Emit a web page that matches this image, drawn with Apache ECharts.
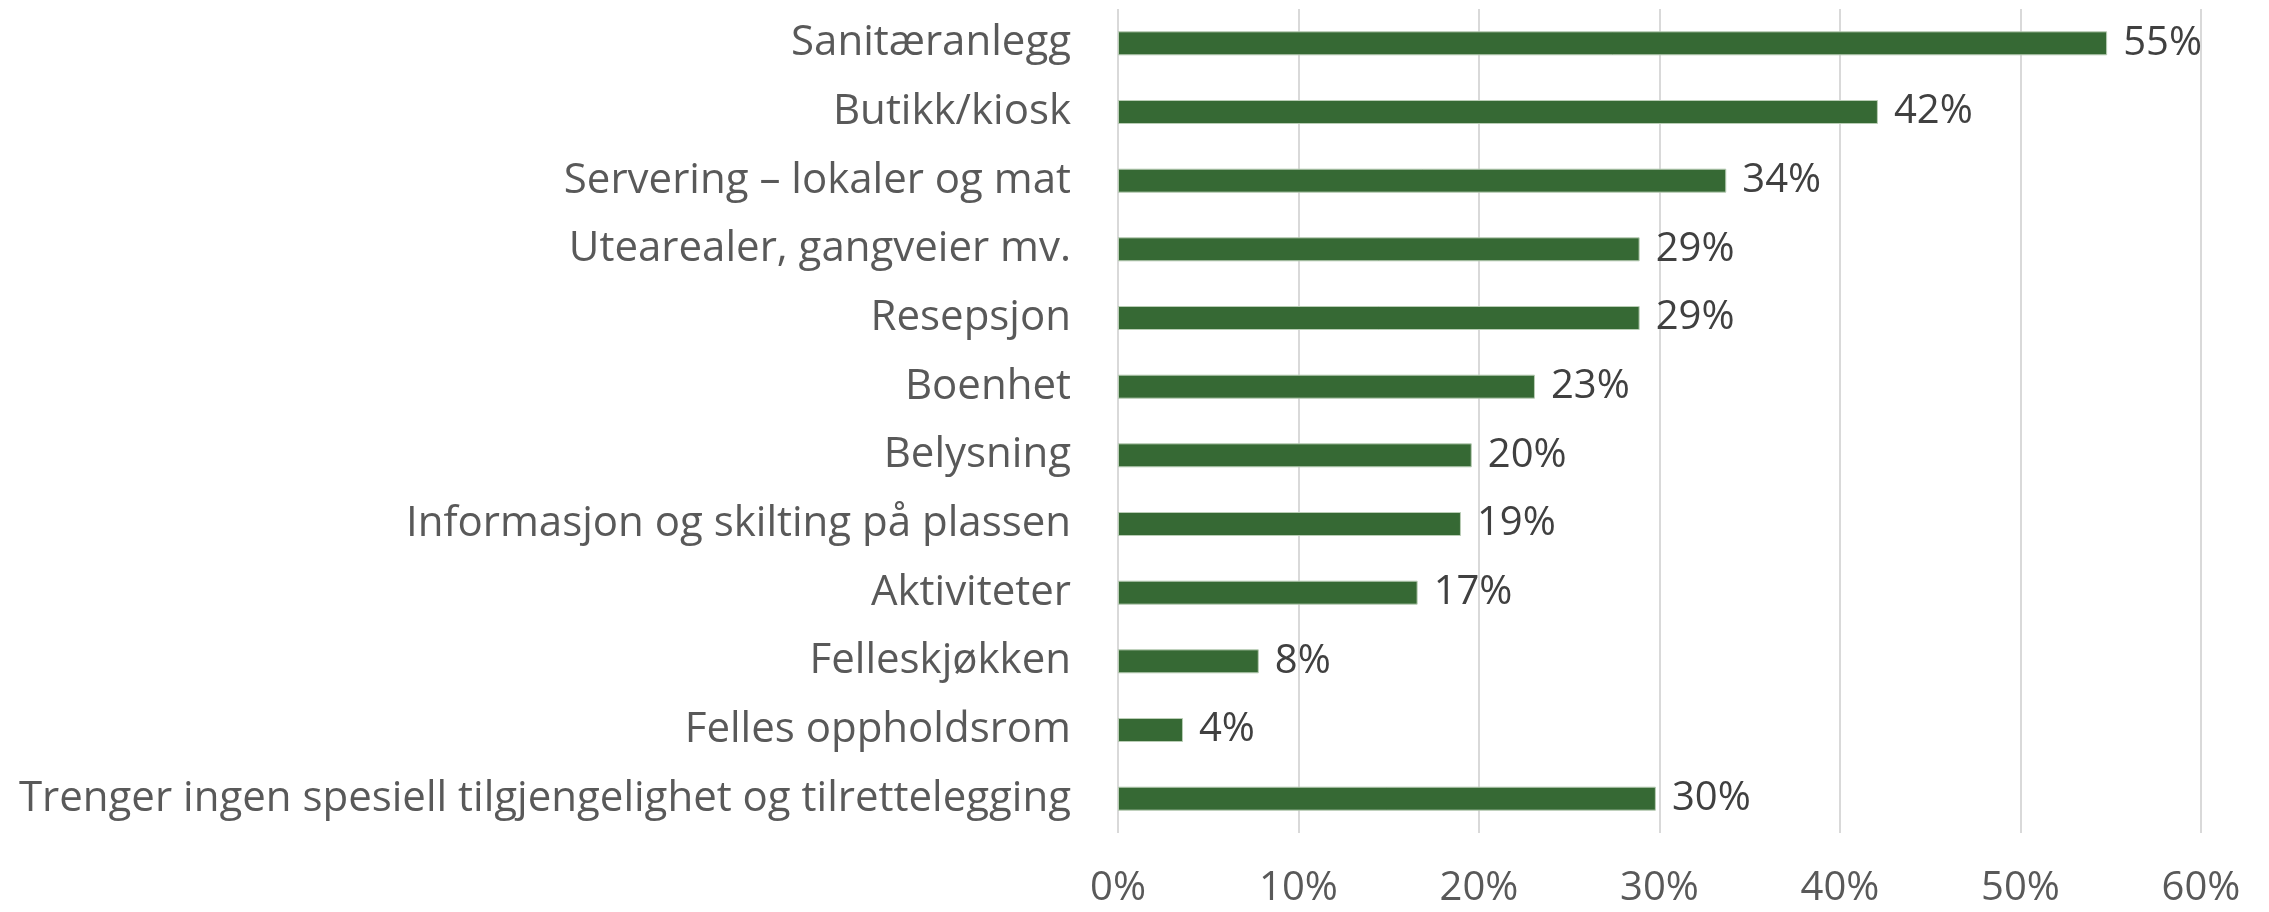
<!DOCTYPE html>
<html>
<head>
<meta charset="utf-8">
<script src="https://cdn.jsdelivr.net/npm/echarts@6/dist/echarts.min.js"></script>
<style>
  html, body { margin: 0; padding: 0; background: #fff; }
  #chart { width: 2269px; height: 912px; }
</style>
</head>
<body>
<div id="chart"></div>
<script>
var categories = [
  'Sanitæranlegg',
  'Butikk/kiosk',
  'Servering – lokaler og mat',
  'Utearealer, gangveier mv.',
  'Resepsjon',
  'Boenhet',
  'Belysning',
  'Informasjon og skilting på plassen',
  'Aktiviteter',
  'Felleskjøkken',
  'Felles oppholdsrom',
  'Trenger ingen spesiell tilgjengelighet og tilrettelegging'
]
var shares = [0.548, 0.421, 0.337, 0.289, 0.289, 0.231, 0.196, 0.190, 0.166, 0.078, 0.036, 0.298]
var xTicks = [0, 0.1, 0.2, 0.3, 0.4, 0.5, 0.6]

var fontFam = '"Open Sans", Lato, sans-serif'
var barGreen = '#366934'

var chart = echarts.init(document.getElementById('chart'), null, { renderer: 'canvas' })
var option = {
  animation: false,
  backgroundColor: '#ffffff',
  grid: {
    left: 1118,
    right: 68,
    top: 9,
    bottom: 79,
    containLabel: false
  },
  xAxis: {
    type: 'value',
    min: xTicks[0],
    max: xTicks[xTicks.length - 1],
    interval: 0.1,
    axisLine: { show: false },
    axisTick: { show: false },
    splitLine: { lineStyle: { color: '#d9d9d9', width: 2 } },
    axisLabel: {
      margin: 36,
      fontSize: 40,
      fontFamily: fontFam,
      color: '#595959',
      formatter: function (v) { return Math.round(v * 100) + '%' }
    }
  },
  yAxis: {
    type: 'category',
    inverse: true,
    data: categories,
    axisLine: { show: false },
    axisTick: { show: false },
    axisLabel: {
      margin: 47,
      fontSize: 42,
      fontFamily: fontFam,
      color: '#595959'
    }
  },
  series: [
    {
      type: 'bar',
      data: shares,
      barWidth: 24,
      itemStyle: {
        color: barGreen,
        borderColor: '#b9cdb5',
        borderWidth: 1
      },
      label: {
        show: true,
        position: 'right',
        distance: 16,
        fontSize: 40,
        fontFamily: fontFam,
        color: '#404040',
        formatter: function (p) { return Math.round(p.value * 100) + '%' }
      }
    }
  ]
}
chart.setOption(option)
</script>
</body>
</html>
